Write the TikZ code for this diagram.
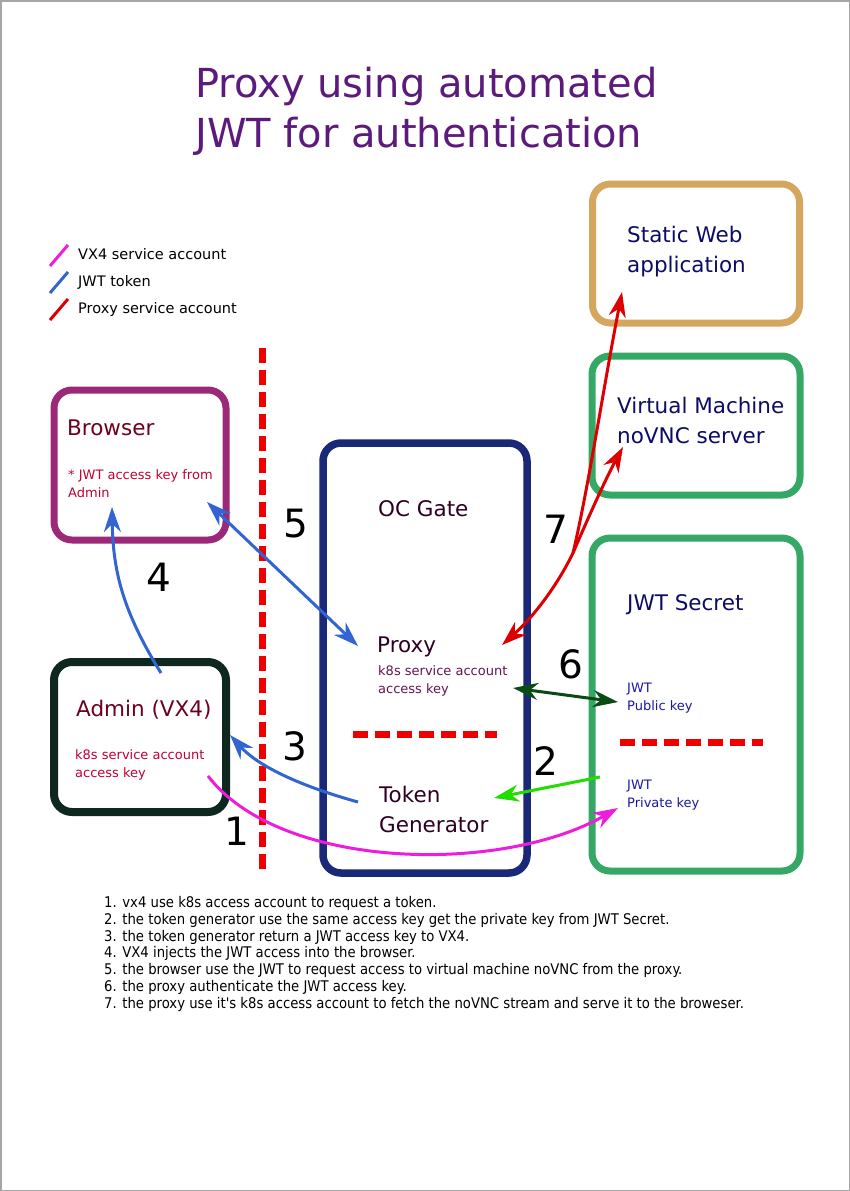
\documentclass[tikz,border=0pt]{standalone}
\usepackage{fontspec}
\setmainfont{DejaVu Sans}
\newfontfamily\condfont{DejaVu Sans Condensed}
\usetikzlibrary{arrows.meta}
\definecolor{titlepurple}{RGB}{92,26,124}
\definecolor{browserpurple}{RGB}{156,40,120}
\definecolor{admindark}{RGB}{14,40,32}
\definecolor{gatenavy}{RGB}{26,40,120}
\definecolor{webtan}{RGB}{212,166,94}
\definecolor{boxgreen}{RGB}{52,168,100}
\definecolor{linkblue}{RGB}{50,100,210}
\definecolor{linkmagenta}{RGB}{236,30,220}
\definecolor{linkred}{RGB}{220,0,0}
\definecolor{linkgreen}{RGB}{34,221,0}
\definecolor{darkgreen}{RGB}{10,75,20}
\definecolor{maroon}{RGB}{110,0,30}
\definecolor{crimson}{RGB}{192,0,50}
\definecolor{plum}{RGB}{100,20,80}
\definecolor{inkdark}{RGB}{45,0,35}
\definecolor{navytext}{RGB}{12,12,100}
\definecolor{bluetext}{RGB}{25,25,160}
\definecolor{dashred}{RGB}{238,0,0}
\begin{document}
\begin{tikzpicture}[x=1pt,y=-1pt,
	box/.style={draw,line width=7pt,rounded corners=18pt,inner sep=0pt},
	txt/.style={anchor=base west,inner sep=0pt,align=left},
	big/.style={font=\fontsize{21.5}{30}\selectfont},
	small/.style={font=\fontsize{13}{17.5}\selectfont},
	num/.style={anchor=base west,inner sep=0pt,font=\fontsize{39}{39}\selectfont},
	cut/.style={dashred,line width=7pt,dash pattern=on 15pt off 7pt},
	link/.style={line width=3pt,-{Stealth[length=25pt,width=17pt,inset=8pt]}},
	twoway/.style={line width=3pt,{Stealth[length=25pt,width=17pt,inset=8pt]}-{Stealth[length=25pt,width=17pt,inset=8pt]}}]
	\useasboundingbox (0,0) rectangle (850,1191);
	\draw[gray!70,line width=1.5pt] (0.75,0.75) rectangle (849.25,1190.25);
	\node[txt,titlepurple,font=\fontsize{40}{50}\selectfont] (title) at (195,147) {Proxy using automated\\JWT for authentication};
	\foreach \c/\y/\t [count=\i] in {linkmagenta/259/VX4 service account, linkblue/286/JWT token, linkred/313/Proxy service account} {
		\draw[\c,line width=3pt] (50,\y+7) -- (68,\y-14);
		\node[txt,font=\fontsize{14.5}{14.5}\selectfont] (legend\i) at (78,\y) {\t};
	}
	\draw[cut] (262,348)--(262,873);
	\node[box,browserpurple,minimum width=172pt,minimum height=150pt] (browser) at (140,465) {};
	\node[box,admindark,line width=8pt,minimum width=172pt,minimum height=150pt] (admin) at (140,737) {};
	\node[box,gatenavy,line width=7.5pt,minimum width=204pt,minimum height=430pt] (gate) at (425,658) {};
	\node[box,webtan,minimum width=207pt,minimum height=139pt] (web) at (696,253.5) {};
	\node[box,boxgreen,minimum width=208pt,minimum height=139pt] (vm) at (696,425.5) {};
	\node[box,boxgreen,minimum width=208pt,minimum height=333pt] (secret) at (696,704.5) {};
	\draw[cut] (353,734)--(497,734);
	\draw[cut] (620,742)--(763,742);
	\node[txt,big,maroon] (browsername) at (67,435) {Browser};
	\node[txt,small,crimson] (browserkey) at (68,497) {* JWT access key from\\Admin};
	\node[txt,big,maroon] (adminname) at (76,716) {Admin (VX4)};
	\node[txt,small,crimson] (adminkey) at (75,777) {k8s service account\\access key};
	\node[txt,big,inkdark] (gatename) at (378,516) {OC Gate};
	\node[txt,big,inkdark] (proxyname) at (377,652) {Proxy};
	\node[txt,small,plum] (proxykey) at (378,693) {k8s service account\\access key};
	\node[txt,big,inkdark] (tokenname) at (379,832) {Token\\Generator};
	\node[txt,big,navytext] (webname) at (627,272) {Static Web\\application};
	\node[txt,big,navytext] (vmname) at (617,443) {Virtual Machine\\noVNC server};
	\node[txt,big,navytext] (secretname) at (627,610) {JWT Secret};
	\node[txt,small,bluetext] (publickey) at (627,710) {JWT\\Public key};
	\node[txt,small,bluetext] (privatekey) at (627,807) {JWT\\Private key};
	\node[num] (n5) at (283,537) {5};
	\node[num] (n4) at (146,591) {4};
	\node[num] (n3) at (282,760) {3};
	\node[num] (n1) at (224,845) {1};
	\node[num] (n7) at (543,543) {7};
	\node[num] (n6) at (558,678) {6};
	\node[num] (n2) at (533,775) {2};
	\coordinate (b5) at (207,502);
	\coordinate (p5) at (358,646);
	\coordinate (a4) at (161,673);
	\coordinate (b4) at (112,507);
	\coordinate (t3) at (358,802);
	\coordinate (a3) at (230,735);
	\coordinate (a1) at (208,776);
	\coordinate (s1) at (618,808);
	\coordinate (s2) at (600,777);
	\coordinate (t2) at (494,798);
	\coordinate (p6) at (513,688);
	\coordinate (s6) at (618,702);
	\coordinate (p7) at (502,645);
	\coordinate (f7) at (573,553);
	\coordinate (w7) at (622,292);
	\coordinate (v7) at (623,447);
	\draw[twoway,linkblue] (b5) -- (p5);
	\draw[link,linkblue] (a4) .. controls (122,610) and (113,570) .. (b4);
	\draw[link,linkblue] (t3) .. controls (300,786) and (258,766) .. (a3);
	\draw[link,linkmagenta] (a1) .. controls (280,870) and (500,875) .. (s1);
	\draw[link,linkgreen] (s2) -- (t2);
	\draw[twoway,darkgreen] (p6) -- (s6);
	\draw[twoway,linkred] (p7) .. controls (530,620) and (555,590) .. (f7) .. controls (588,490) and (603,390) .. (w7);
	\draw[link,linkred] (f7) .. controls (585,525) and (605,480) .. (v7);
	\node[txt,font=\condfont\fontsize{14.7}{16.7}\selectfont] (steps) at (104,1008) {1. vx4 use k8s access account to request a token.\\2. the token generator use the same access key get the private key from JWT Secret.\\3. the token generator return a JWT access key to VX4.\\4. VX4 injects the JWT access into the browser.\\5. the browser use the JWT to request access to virtual machine noVNC from the proxy.\\6. the proxy authenticate the JWT access key.\\7. the proxy use it's k8s access account to fetch the noVNC stream and serve it to the broweser.};
\end{tikzpicture}
\end{document}
